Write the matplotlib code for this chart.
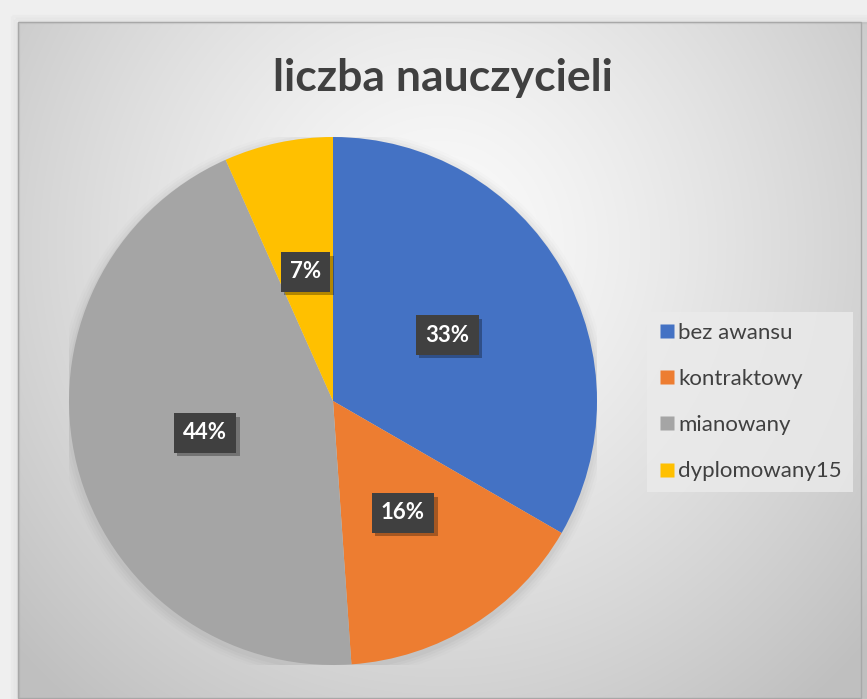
import numpy as np
import matplotlib
matplotlib.use("Agg")
import matplotlib.pyplot as plt
from matplotlib.patches import Rectangle, Circle
from matplotlib.lines import Line2D
from matplotlib import patheffects

plt.rcParams["font.family"] = ["Lato", "DejaVu Sans"]

# data
categories = ["bez awansu", "kontraktowy", "mianowany", "dyplomowany15"]
counts = [15, 7, 20, 3]
colors = ["#4472C4", "#ED7D31", "#A5A5A5", "#FFC000"]
title = "liczba nauczycieli"

W, H = 867, 699
fig = plt.figure(figsize=(W / 100, H / 100), dpi=100)
fig.patch.set_facecolor("#efefef")

# chart area background: radial grey gradient
bg = fig.add_axes([0, 0, 1, 1], zorder=0)
bg.set_xlim(0, W)
bg.set_ylim(H, 0)
bg.axis("off")
yy, xx = np.mgrid[0:H, 0:W]
d = np.hypot((xx - 430) / 1.0, (yy - 230) / 1.05)
shade = np.clip(0.985 - 0.22 * (d / 560) ** 1.3, 0.75, 1.0)
img = np.dstack([shade, shade, shade])
bg.imshow(img, extent=(18, W, H, 22), origin="upper", interpolation="bilinear")
# soft outer shadow
for i, a in enumerate([0.10, 0.07, 0.04]):
    bg.add_patch(Rectangle((18 - i * 3, 22 - i * 3), W, H, fill=False,
                           edgecolor="#808080", lw=2.5, alpha=a))
bg.add_patch(Rectangle((18, 22), W - 24, H - 23, fill=False,
                       edgecolor="#a8a8a8", lw=1.0))

# pie
cx, cy, r = 333, 401, 264
ax = fig.add_axes([(cx - r) / W, (H - cy - r) / H, 2 * r / W, 2 * r / H], zorder=2)
ax.axis("off")
# shadow around pie
for k, a in enumerate([0.05, 0.04, 0.03, 0.02]):
    ax.add_patch(Circle((0.0, -0.01), 1.0 + 0.01 * (k + 1), color="#606060",
                        alpha=a, lw=0, zorder=0))

wedges, texts, autotexts = ax.pie(
    counts, colors=colors, startangle=90, counterclock=False,
    autopct=lambda p: f"{p:.0f}%", pctdistance=0.5, radius=1.0,
    wedgeprops=dict(linewidth=0),
    textprops=dict(color="white", fontsize=16, fontweight="bold"),
)
ax.set_xlim(-1, 1)
ax.set_ylim(-1, 1)
ax.set_aspect("equal")
for t in autotexts:
    t.set_zorder(4)
    t.set_bbox(dict(boxstyle="square,pad=0.42", fc="#404040", ec="none"))
    t.get_bbox_patch().set_path_effects(
        [patheffects.withSimplePatchShadow(offset=(2.5, -2.5), shadow_rgbFace="#000000", alpha=0.3)])

# title
fig.text(443 / W, 1 - 78 / H, title, ha="center", va="center",
         fontsize=32, fontweight="bold", color="#404040")

# legend
handles = [Line2D([], [], marker="s", linestyle="None", markersize=10,
                  markerfacecolor=c, markeredgecolor="none") for c in colors]
leg = fig.legend(handles, categories, loc="center left",
                 bbox_to_anchor=(636 / W, 1 - 402 / H), frameon=True,
                 fontsize=16, labelspacing=1.18, handletextpad=0.1,
                 handlelength=0.8, borderpad=0.5, fancybox=False)
leg.get_frame().set_facecolor("#ebebeb")
leg.get_frame().set_edgecolor("none")
leg.get_frame().set_alpha(0.8)
for t in leg.get_texts():
    t.set_color("#404040")
leg.set_zorder(5)

fig.savefig("out.png", dpi=100)
